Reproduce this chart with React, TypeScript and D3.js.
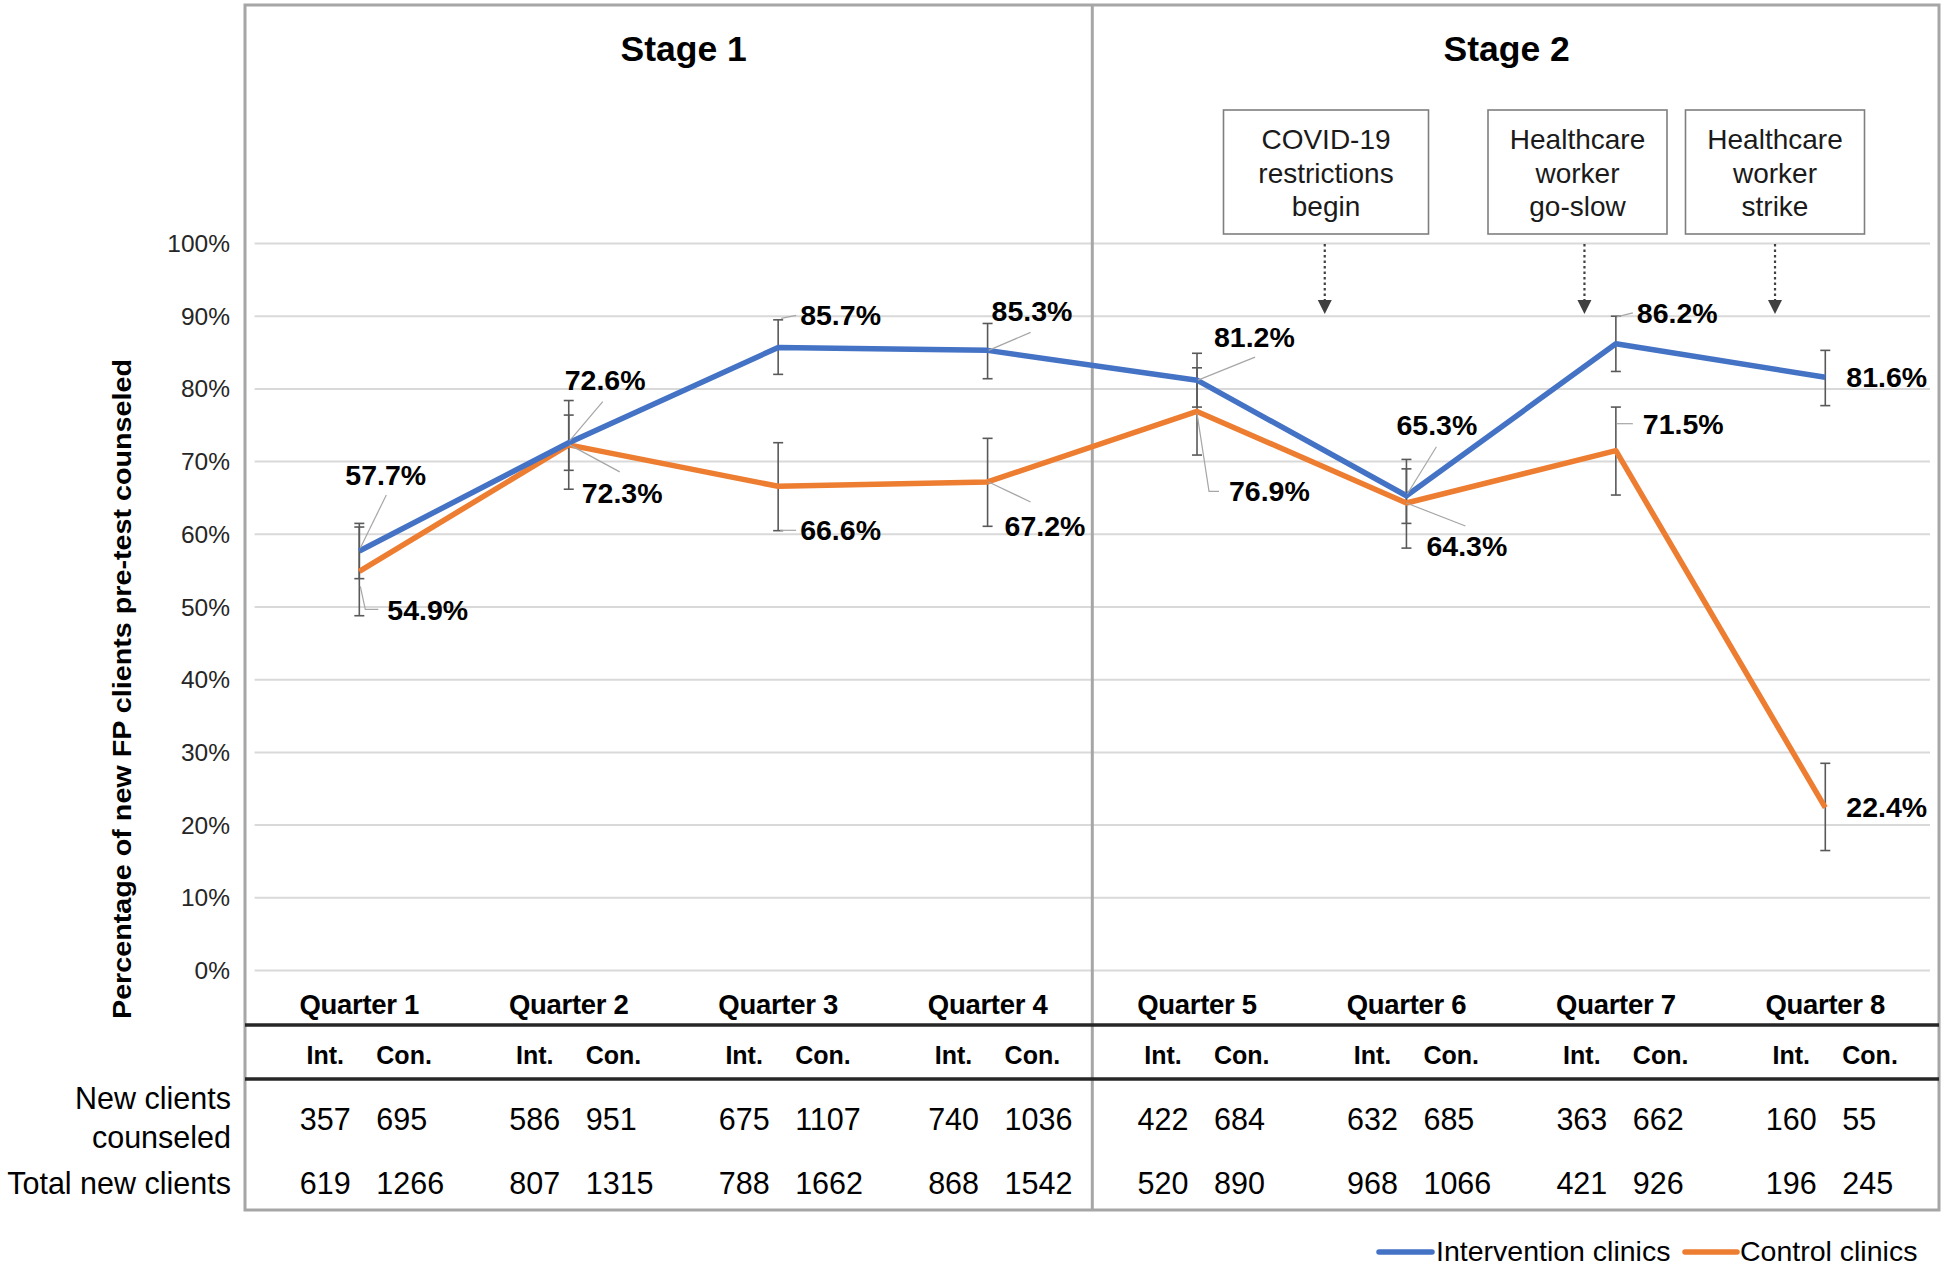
import React from "react";
import * as d3 from "d3";

const quarters = ["Quarter 1", "Quarter 2", "Quarter 3", "Quarter 4", "Quarter 5", "Quarter 6", "Quarter 7", "Quarter 8"];
const intervention = [57.7, 72.6, 85.7, 85.3, 81.2, 65.3, 86.2, 81.6];
const control = [54.9, 72.3, 66.6, 67.2, 76.9, 64.3, 71.5, 22.4];
const interventionLow = [53.9, 68.8, 82.0, 81.4, 77.5, 61.5, 82.4, 77.7];
const interventionHigh = [61.5, 76.4, 89.5, 89.0, 84.9, 69.0, 90.0, 85.3];
const controlLow = [48.8, 66.2, 60.5, 61.1, 70.9, 58.1, 65.4, 16.5];
const controlHigh = [61.0, 78.4, 72.6, 73.2, 82.9, 70.3, 77.5, 28.5];
const intCounseled = [357, 586, 675, 740, 422, 632, 363, 160];
const conCounseled = [695, 951, 1107, 1036, 684, 685, 662, 55];
const intTotal = [619, 807, 788, 868, 520, 968, 421, 196];
const conTotal = [1266, 1315, 1662, 1542, 890, 1066, 926, 245];
const yTicks = [0, 10, 20, 30, 40, 50, 60, 70, 80, 90, 100];
const stages = ["Stage 1", "Stage 2"];
const eventLines = [
  ["COVID-19", "restrictions", "begin"],
  ["Healthcare", "worker", "go-slow"],
  ["Healthcare", "worker", "strike"],
];
const eventAt = [4.61, 5.85, 6.76]; // fractional quarter index where arrow points
const seriesNames = ["Intervention clinics", "Control clinics"];

// label layout (offsets relative to data point)
const intLabelPos = [
  { dx: -14, dy: -66, lead: [[1, -3], [27, -56]] },
  { dx: -4, dy: -53, lead: [[1, -2], [34, -41]] },
  { dx: 22, dy: -22, lead: [[3, -29], [18, -32]] },
  { dx: 4, dy: -29, lead: [[1, 0], [43, -18]] },
  { dx: 17, dy: -33, lead: [[1, 0], [58, -23]] },
  { dx: -10, dy: -61, lead: [[1, -2], [30, -49]] },
  { dx: 21, dy: -21, lead: [[1, -27], [17, -31]] },
  { dx: 21, dy: 10, lead: null },
];
const conLabelPos = [
  { dx: 28, dy: 49, lead: [[1, 15], [6, 38], [19, 38]] },
  { dx: 13, dy: 58, lead: [[1, 0], [51, 27]] },
  { dx: 22, dy: 54, lead: [[2, 44], [18, 44]] },
  { dx: 17, dy: 54, lead: [[1, 0], [43, 20]] },
  { dx: 32, dy: 90, lead: [[0, 2], [12, 80], [22, 80]] },
  { dx: 20, dy: 53, lead: [[0, 0], [59, 23]] },
  { dx: 27, dy: -17, lead: [[1, -27], [17, -27]] },
  { dx: 21, dy: 9, lead: null },
];

const W = 1944;
const H = 1268;
const FONT = "'Liberation Sans', Arial, Helvetica, sans-serif";
const BLUE = "#4472C4";
const ORANGE = "#ED7D31";

export default function App() {
  const x = d3.scaleBand<string>().domain(quarters).range([254.6, 1930]).padding(0);
  const y = d3.scaleLinear().domain([0, 100]).range([970.5, 243.5]);
  const cx = (i: number) => (x(quarters[i]) as number) + x.bandwidth() / 2;
  const fx = (f: number) => cx(0) + f * x.bandwidth();

  const line = d3
    .line<number>()
    .x((_, i) => cx(i))
    .y((d) => y(d));

  const frameL = 245;
  const frameR = 1939;
  const frameT = 5;
  const frameB = 1210;
  const divX = x(quarters[4]) as number;

  const renderErr = (lo: number[], hi: number[], key: string) =>
    lo.map((l, i) => {
      const xx = cx(i);
      return (
        <g key={key + i} stroke="#595959" strokeWidth={1.6}>
          <line x1={xx} x2={xx} y1={y(l)} y2={y(hi[i])} />
          <line x1={xx - 5} x2={xx + 5} y1={y(l)} y2={y(l)} />
          <line x1={xx - 5} x2={xx + 5} y1={y(hi[i])} y2={y(hi[i])} />
        </g>
      );
    });

  const renderLabels = (vals: number[], pos: typeof intLabelPos, key: string) =>
    vals.map((v, i) => {
      const px = cx(i);
      const py = y(v);
      const p = pos[i];
      return (
        <g key={key + i}>
          {p.lead && (
            <polyline
              points={p.lead.map(([a, b]) => `${px + a},${py + b}`).join(" ")}
              fill="none"
              stroke="#a6a6a6"
              strokeWidth={1.2}
            />
          )}
          <text x={px + p.dx} y={py + p.dy} fontSize={28.5} fontWeight="bold" fill="#000">
            {v.toFixed(1)}%
          </text>
        </g>
      );
    });

  const boxW = [205, 179, 179];
  const boxCx = [1326, 1577.5, 1775];

  return (
    <svg
      width={W}
      height={H}
      style={{ position: "absolute", left: 0, top: 0, background: "#fff" }}
      fontFamily={FONT}
    >
      <rect x={0} y={0} width={W} height={H} fill="#fff" />
      {/* gridlines */}
      {yTicks.map((t) => (
        <line key={"g" + t} x1={254.6} x2={1930} y1={y(t)} y2={y(t)} stroke="#d9d9d9" strokeWidth={2} />
      ))}
      {/* y tick labels */}
      {yTicks.map((t) => (
        <text key={"t" + t} x={230} y={y(t)} dy="0.35em" textAnchor="end" fontSize={24.5} fill="#262626">
          {t}%
        </text>
      ))}
      {/* y axis title */}
      <text
        transform="translate(131,689) rotate(-90)"
        textAnchor="middle"
        fontSize={26.5}
        fontWeight="bold"
        fill="#000"
        textLength={660}
        lengthAdjust="spacingAndGlyphs"
      >
        Percentage of new FP clients pre-test counseled
      </text>

      {/* frame */}
      <g stroke="#a6a6a6" strokeWidth={3} fill="none">
        <rect x={frameL} y={frameT} width={frameR - frameL} height={frameB - frameT} />
        <line x1={divX} x2={divX} y1={frameT} y2={frameB} />
      </g>
      {/* table lines */}
      <g stroke="#262626" strokeWidth={3.4}>
        <line x1={frameL} x2={frameR} y1={1025} y2={1025} />
        <line x1={frameL} x2={frameR} y1={1079} y2={1079} />
      </g>

      {/* stage titles */}
      <text x={(frameL + divX) / 2 + 15} y={61} textAnchor="middle" fontSize={35.5} fontWeight="bold">
        {stages[0]}
      </text>
      <text x={(divX + frameR) / 2 - 9} y={61} textAnchor="middle" fontSize={35.5} fontWeight="bold">
        {stages[1]}
      </text>

      {/* event boxes */}
      {eventLines.map((lines, k) => {
        const ax = fx(eventAt[k]);
        return (
          <g key={"ev" + k}>
            <rect
              x={boxCx[k] - boxW[k] / 2}
              y={110}
              width={boxW[k]}
              height={124}
              fill="#fff"
              stroke="#7f7f7f"
              strokeWidth={1.6}
            />
            {lines.map((s, j) => (
              <text key={j} x={boxCx[k]} y={149 + j * 33.5} textAnchor="middle" fontSize={28} fill="#1a1a1a">
                {s}
              </text>
            ))}
            <line x1={ax} x2={ax} y1={244} y2={301} stroke="#404040" strokeWidth={2.2} strokeDasharray="2.5,3" />
            <path d={`M${ax - 7},${300} L${ax + 7},${300} L${ax},${314} Z`} fill="#404040" />
          </g>
        );
      })}

      {/* error bars */}
      {renderErr(controlLow, controlHigh, "ce")}
      {renderErr(interventionLow, interventionHigh, "ie")}

      {/* lines */}
      <path d={line(control) || ""} fill="none" stroke={ORANGE} strokeWidth={5.5} strokeLinejoin="round" />
      <path d={line(intervention) || ""} fill="none" stroke={BLUE} strokeWidth={5.5} strokeLinejoin="round" />

      {/* data labels */}
      {renderLabels(intervention, intLabelPos, "il")}
      {renderLabels(control, conLabelPos, "cl")}

      {/* quarter labels */}
      {quarters.map((q, i) => (
        <text key={"q" + i} x={cx(i)} y={1014} textAnchor="middle" fontSize={27.5} fontWeight="bold" letterSpacing={-0.3}>
          {q}
        </text>
      ))}
      {/* table headers and values */}
      {quarters.map((q, i) => {
        const c = cx(i);
        return (
          <g key={"tb" + i}>
            <text x={c - 34} y={1063.6} textAnchor="middle" fontSize={25} fontWeight="bold">
              Int.
            </text>
            <text x={c + 17} y={1063.6} fontSize={25} fontWeight="bold">
              Con.
            </text>
            <text x={c - 34} y={1129.6} textAnchor="middle" fontSize={30.5}>
              {intCounseled[i]}
            </text>
            <text x={c + 17} y={1129.6} fontSize={30.5}>
              {conCounseled[i]}
            </text>
            <text x={c - 34} y={1194.4} textAnchor="middle" fontSize={30.5}>
              {intTotal[i]}
            </text>
            <text x={c + 17} y={1194.4} fontSize={30.5}>
              {conTotal[i]}
            </text>
          </g>
        );
      })}
      <text x={231} y={1109} textAnchor="end" fontSize={30.5}>
        New clients
      </text>
      <text x={231} y={1147.5} textAnchor="end" fontSize={30.5}>
        counseled
      </text>
      <text x={231} y={1194.4} textAnchor="end" fontSize={30.5}>
        Total new clients
      </text>

      {/* legend */}
      <line x1={1379} x2={1432} y1={1252} y2={1252} stroke={BLUE} strokeWidth={5.5} strokeLinecap="round" />
      <text x={1436} y={1261} fontSize={28.5}>
        {seriesNames[0]}
      </text>
      <line x1={1685} x2={1737} y1={1252} y2={1252} stroke={ORANGE} strokeWidth={5.5} strokeLinecap="round" />
      <text x={1740} y={1261} fontSize={28.5}>
        {seriesNames[1]}
      </text>
    </svg>
  );
}
